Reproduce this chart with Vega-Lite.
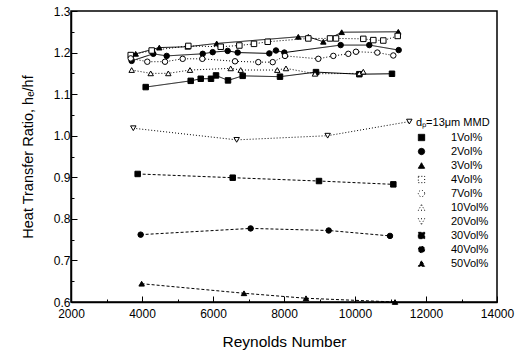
{
  "$schema": "https://vega.github.io/schema/vega-lite/v6.json",
  "width": 426,
  "height": 291,
  "autosize": "none",
  "padding": {"left": 71, "top": 11, "right": 18, "bottom": 49},
  "background": "white",
  "config": {
    "font": "Liberation Sans",
    "view": {"stroke": "black", "strokeWidth": 1.5},
    "axis": {"domainColor": "black", "tickColor": "black", "labelColor": "black", "titleColor": "black", "grid": false, "labelFontSize": 12, "titleFontSize": 15.5, "titleFontWeight": "normal", "domainWidth": 1.5, "tickWidth": 1},
    "legend": {"labelColor": "black", "titleColor": "black", "labelFontSize": 11, "titleFontSize": 11, "titleFontWeight": "normal"}
  },
  "data": {"values": [
    {"series": "1Vol%", "Re": 4104, "h": 1.117},
    {"series": "1Vol%", "Re": 5372, "h": 1.132},
    {"series": "1Vol%", "Re": 5654, "h": 1.137},
    {"series": "1Vol%", "Re": 5944, "h": 1.137},
    {"series": "1Vol%", "Re": 6085, "h": 1.145},
    {"series": "1Vol%", "Re": 6423, "h": 1.133},
    {"series": "1Vol%", "Re": 6836, "h": 1.144},
    {"series": "1Vol%", "Re": 7887, "h": 1.142},
    {"series": "1Vol%", "Re": 8901, "h": 1.153},
    {"series": "1Vol%", "Re": 10122, "h": 1.148},
    {"series": "1Vol%", "Re": 11042, "h": 1.149},
    {"series": "2Vol%", "Re": 3708, "h": 1.18},
    {"series": "2Vol%", "Re": 4318, "h": 1.197},
    {"series": "2Vol%", "Re": 4695, "h": 1.192},
    {"series": "2Vol%", "Re": 5710, "h": 1.197},
    {"series": "2Vol%", "Re": 5991, "h": 1.201},
    {"series": "2Vol%", "Re": 6413, "h": 1.204},
    {"series": "2Vol%", "Re": 6695, "h": 1.2},
    {"series": "2Vol%", "Re": 7586, "h": 1.198},
    {"series": "2Vol%", "Re": 7774, "h": 1.205},
    {"series": "2Vol%", "Re": 8009, "h": 1.2},
    {"series": "2Vol%", "Re": 9596, "h": 1.218},
    {"series": "2Vol%", "Re": 10403, "h": 1.218},
    {"series": "2Vol%", "Re": 11230, "h": 1.206},
    {"series": "3Vol%", "Re": 3822, "h": 1.197},
    {"series": "3Vol%", "Re": 4487, "h": 1.212},
    {"series": "3Vol%", "Re": 5287, "h": 1.214},
    {"series": "3Vol%", "Re": 6104, "h": 1.222},
    {"series": "3Vol%", "Re": 8403, "h": 1.238},
    {"series": "3Vol%", "Re": 8685, "h": 1.238},
    {"series": "3Vol%", "Re": 9108, "h": 1.226},
    {"series": "3Vol%", "Re": 9625, "h": 1.249},
    {"series": "3Vol%", "Re": 11220, "h": 1.25},
    {"series": "4Vol%", "Re": 3682, "h": 1.194},
    {"series": "4Vol%", "Re": 4273, "h": 1.205},
    {"series": "4Vol%", "Re": 5305, "h": 1.216},
    {"series": "4Vol%", "Re": 6217, "h": 1.214},
    {"series": "4Vol%", "Re": 6742, "h": 1.217},
    {"series": "4Vol%", "Re": 7155, "h": 1.221},
    {"series": "4Vol%", "Re": 7541, "h": 1.226},
    {"series": "4Vol%", "Re": 8685, "h": 1.234},
    {"series": "4Vol%", "Re": 9296, "h": 1.234},
    {"series": "4Vol%", "Re": 9465, "h": 1.234},
    {"series": "4Vol%", "Re": 10234, "h": 1.233},
    {"series": "4Vol%", "Re": 10516, "h": 1.23},
    {"series": "4Vol%", "Re": 10797, "h": 1.229},
    {"series": "4Vol%", "Re": 11203, "h": 1.24},
    {"series": "7Vol%", "Re": 3682, "h": 1.186},
    {"series": "7Vol%", "Re": 4149, "h": 1.178},
    {"series": "7Vol%", "Re": 4648, "h": 1.178},
    {"series": "7Vol%", "Re": 5146, "h": 1.185},
    {"series": "7Vol%", "Re": 5699, "h": 1.185},
    {"series": "7Vol%", "Re": 6620, "h": 1.179},
    {"series": "7Vol%", "Re": 7276, "h": 1.177},
    {"series": "7Vol%", "Re": 7682, "h": 1.177},
    {"series": "7Vol%", "Re": 8028, "h": 1.192},
    {"series": "7Vol%", "Re": 8966, "h": 1.185},
    {"series": "7Vol%", "Re": 9389, "h": 1.192},
    {"series": "7Vol%", "Re": 9811, "h": 1.197},
    {"series": "7Vol%", "Re": 10028, "h": 1.202},
    {"series": "7Vol%", "Re": 10629, "h": 1.2},
    {"series": "7Vol%", "Re": 11079, "h": 1.193},
    {"series": "10Vol%", "Re": 3709, "h": 1.158},
    {"series": "10Vol%", "Re": 4245, "h": 1.15},
    {"series": "10Vol%", "Re": 4741, "h": 1.15},
    {"series": "10Vol%", "Re": 5352, "h": 1.158},
    {"series": "10Vol%", "Re": 6498, "h": 1.162},
    {"series": "10Vol%", "Re": 6780, "h": 1.158},
    {"series": "10Vol%", "Re": 7811, "h": 1.158},
    {"series": "10Vol%", "Re": 8056, "h": 1.162},
    {"series": "10Vol%", "Re": 8873, "h": 1.149},
    {"series": "10Vol%", "Re": 10122, "h": 1.15},
    {"series": "10Vol%", "Re": 10234, "h": 1.154},
    {"series": "20Vol%", "Re": 3755, "h": 1.018},
    {"series": "20Vol%", "Re": 6667, "h": 0.99},
    {"series": "20Vol%", "Re": 9230, "h": 1.0},
    {"series": "20Vol%", "Re": 11530, "h": 1.034},
    {"series": "30Vol%", "Re": 3878, "h": 0.908},
    {"series": "30Vol%", "Re": 6555, "h": 0.899},
    {"series": "30Vol%", "Re": 8986, "h": 0.891},
    {"series": "30Vol%", "Re": 11080, "h": 0.883},
    {"series": "40Vol%", "Re": 3962, "h": 0.762},
    {"series": "40Vol%", "Re": 7060, "h": 0.777},
    {"series": "40Vol%", "Re": 9259, "h": 0.772},
    {"series": "40Vol%", "Re": 10986, "h": 0.759},
    {"series": "50Vol%", "Re": 3990, "h": 0.644},
    {"series": "50Vol%", "Re": 6873, "h": 0.621},
    {"series": "50Vol%", "Re": 8620, "h": 0.609},
    {"series": "50Vol%", "Re": 11127, "h": 0.6}
  ]},
  "encoding": {
    "x": {"field": "Re", "type": "quantitative", "scale": {"domain": [2000, 14000], "nice": false},
      "axis": {"title": "Reynolds Number", "values": [2000,3000,4000,5000,6000,7000,8000,9000,10000,11000,12000,13000,14000], "format": "d", "labelExpr": "datum.value % 2000 === 0 ? datum.label : ''", "tickSize": {"condition": {"test": "datum.value % 2000 === 0", "value": -6}, "value": -3}, "labelPadding": 12, "titlePadding": 15, "labelFlush": false}},
    "y": {"field": "h", "type": "quantitative", "scale": {"domain": [0.6, 1.3], "nice": false, "zero": false},
      "axis": {"title": "Heat Transfer Ratio, hₑ/hf", "values": [0.6,0.65,0.7,0.75,0.8,0.85,0.9,0.95,1.0,1.05,1.1,1.15,1.2,1.25,1.3], "format": ".1f", "labelExpr": "round(datum.value*20) % 2 === 0 ? datum.label : ''", "tickSize": {"condition": {"test": "round(datum.value*20) % 2 === 0", "value": -6}, "value": -3}, "labelPadding": 7, "titlePadding": 18, "titleFontSize": 14.5}}
  },
  "layer": [
    {
      "mark": {"type": "line", "color": "black", "strokeWidth": 1},
      "encoding": {
        "detail": {"field": "series"},
        "strokeDash": {"field": "series", "type": "nominal",
          "scale": {"domain": ["1Vol%","2Vol%","3Vol%","4Vol%","7Vol%","10Vol%","20Vol%","30Vol%","40Vol%","50Vol%"],
            "range": [[1,0],[1,0],[1,0],[1,2],[1,2],[1,2],[1,2],[3,2],[3,2],[3,2]]}}
      }
    },
    {
      "mark": {"type": "point", "filled": true, "stroke": "black", "strokeWidth": 1, "opacity": 1, "size": 30},
      "encoding": {
        "shape": {"field": "series", "type": "nominal",
          "scale": {"domain": ["1Vol%","2Vol%","3Vol%","4Vol%","7Vol%","10Vol%","20Vol%","30Vol%","40Vol%","50Vol%"],
            "range": ["square","circle","triangle-up","square","circle","triangle-up","triangle-down","square","circle","triangle-up"]},
          "legend": {"title": "dₚ=13μm MMD", "orient": "none", "legendX": 345, "legendY": 106, "symbolSize": 40, "rowPadding": 2, "labelOffset": 24, "titlePadding": 4, "symbolStrokeColor": "black", "symbolStrokeWidth": 1,
            "encode": {"symbols": {"update": {"strokeDash": {"value": [1, 0]}}}}}},
        "fill": {"field": "series", "type": "nominal",
          "scale": {"domain": ["1Vol%","2Vol%","3Vol%","4Vol%","7Vol%","10Vol%","20Vol%","30Vol%","40Vol%","50Vol%"],
            "range": ["black","black","black","white","white","white","white","black","black","black"]}}
      }
    }
  ]
}
